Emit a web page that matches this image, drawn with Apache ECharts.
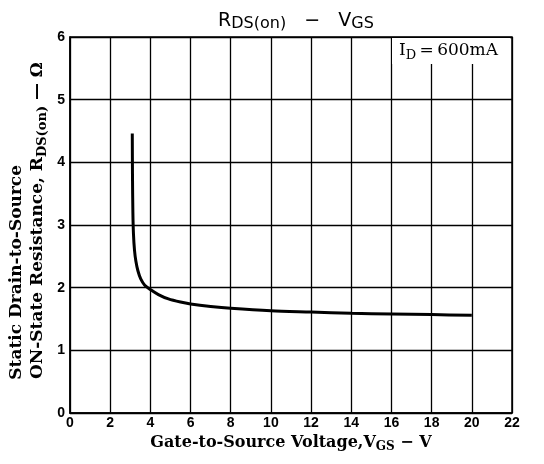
<!DOCTYPE html>
<html>
<head>
<meta charset="utf-8">
<script src="https://cdn.jsdelivr.net/npm/echarts@6/dist/echarts.min.js"></script>
<style>
  html, body { margin: 0; padding: 0; background: #fff; }
  #chart { width: 544px; height: 464px; }
</style>
</head>
<body>
<div id="chart"></div>
<script>
// values (I_D = 600mA)
var vgs = [3.10, 3.11, 3.13, 3.16, 3.21, 3.28, 3.38, 3.52, 3.72, 4.0, 4.4, 4.9, 5.5, 6, 7, 8, 10, 12, 14, 16, 18, 20];
var rds = [4.46, 3.8, 3.2, 2.85, 2.6, 2.42, 2.27, 2.14, 2.04, 1.97, 1.89, 1.82, 1.77, 1.74, 1.70, 1.67, 1.63, 1.61, 1.59, 1.58, 1.57, 1.56];
var xTicks = [0, 2, 4, 6, 8, 10, 12, 14, 16, 18, 20, 22];
var yTicks = [0, 1, 2, 3, 4, 5, 6];

var serif = '"DejaVu Serif", serif';
var sans = '"DejaVu Sans", sans-serif';

var chart = echarts.init(document.getElementById('chart'));

// rich styles for "X{sub}" text: n = normal, s = subscript dropped by `drop` px
function subRich(family, weight, size, subSize, drop) {
    var lh = Math.max(size, Math.round(drop + 0.2 * subSize + 0.8 * size));
    return {
        n: { fontFamily: family, fontWeight: weight, fontSize: size, color: '#000', verticalAlign: 'top', lineHeight: size },
        s: { fontFamily: family, fontWeight: weight, fontSize: subSize, color: '#000', verticalAlign: 'bottom', lineHeight: lh }
    }
}

chart.setOption({
    animation: false,
    backgroundColor: '#fff',
    title: {
        left: 291,
        top: 7,
        textAlign: 'center',
        text: '{n|R}{s|DS(on)}{n|   −   V}{s|GS}',
        textStyle: { rich: subRich(sans, 'normal', 19, 16, 2) }
    },
    grid: {
        left: 70, right: 32, top: 37, bottom: 51,
        show: true,
        borderColor: '#000',
        borderWidth: 1.5
    },
    xAxis: {
        type: 'value',
        min: 0, max: 22, interval: 2,
        name: '{n|Gate-to-Source Voltage,V}{s|GS}{n| − V}',
        nameLocation: 'middle',
        nameGap: 19,
        nameTextStyle: { rich: subRich(serif, 'bold', 16, 12, 3) },
        axisLine: { lineStyle: { color: '#000', width: 1.5 } },
        axisTick: { show: false },
        axisLabel: {
            margin: 3,
            color: '#000', fontFamily: '"Liberation Sans", sans-serif', fontWeight: 'bold', fontSize: 14,
            formatter: function (v) { return xTicks.indexOf(v) >= 0 ? String(v) : ''; }
        },
        splitLine: { lineStyle: { color: '#000', width: 1.3 } }
    },
    yAxis: {
        type: 'value',
        min: 0, max: 6, interval: 1,
        axisLine: { lineStyle: { color: '#000', width: 1.5 } },
        axisTick: { show: false },
        axisLabel: {
            margin: 5,
            color: '#000', fontFamily: '"Liberation Sans", sans-serif', fontWeight: 'bold', fontSize: 14,
            formatter: function (v) { return yTicks.indexOf(v) >= 0 ? String(v) : ''; }
        },
        splitLine: { lineStyle: { color: '#000', width: 1.3 } }
    },
    graphic: [
        // y axis name, two lines reading bottom to top
        {
            type: 'text', left: 8, top: 165, z: 10,
            rotation: Math.PI / 2,
            style: { text: 'Static Drain-to-Source', fill: '#000', font: 'bold 17px ' + serif }
        },
        {
            type: 'text', left: 29, top: 62, z: 10,
            rotation: Math.PI / 2,
            style: {
                text: '{n|ON-State Resistance, R}{s|DS(on)}{n| — Ω}',
                rich: subRich(serif, 'bold', 17, 13, 4)
            }
        },
        // condition box
        {
            type: 'rect', z: 20,
            shape: { x: 392, y: 38, width: 118, height: 26 },
            style: { fill: '#fff' }
        },
        {
            type: 'text', z: 21, left: 399, top: 42,
            style: {
                text: '{n|I}{s|D}{n|\u2009=\u2009600mA}',
                rich: subRich(serif, 'normal', 17, 13, 4)
            }
        }
    ],
    series: [{
        type: 'line',
        data: vgs.map(function (v, i) { return [v, rds[i]]; }),
        showSymbol: false,
        smooth: 0.3,
        lineStyle: { color: '#000', width: 3 }
    }]
})
</script>
</body>
</html>
